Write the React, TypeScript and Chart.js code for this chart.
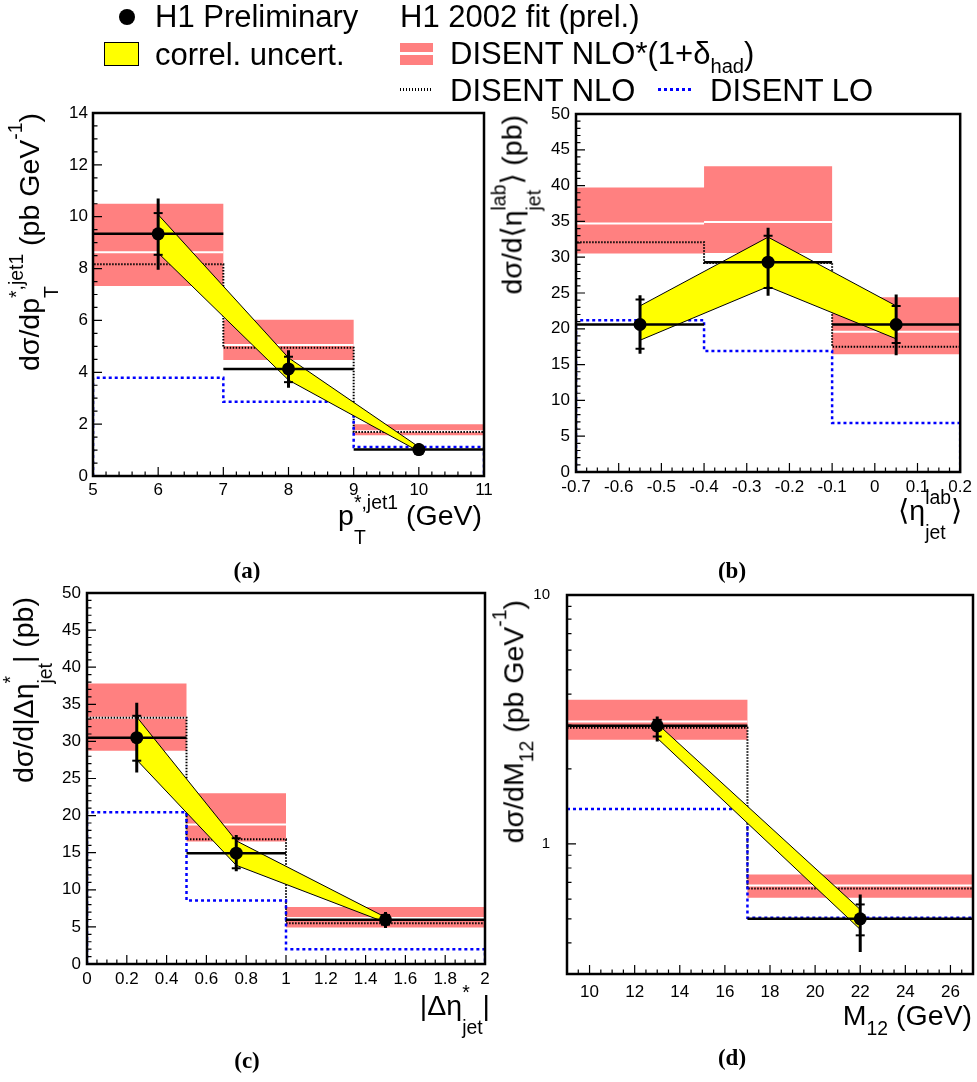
import React, { useEffect, useRef } from 'react';
import { Chart, registerables } from 'chart.js';
Chart.register(...registerables);

// ---------------- DATA ----------------
// Panel (a): d sigma / d pT*,jet1
const aEdges = [5, 7, 9, 11];
const aCenters = [6, 8, 10];
const aData = [9.34, 4.13, 1.02];
const aTotUp = [10.7, 4.85, 1.27];
const aTotDn = [7.95, 3.4, 0.78];
const aStatUp = [10.14, 4.6, 1.17];
const aStatDn = [8.53, 3.62, 0.87];
const aBandUp = [10.08, 4.56, 1.12];
const aBandDn = [8.6, 3.7, 0.95];
const aRedHi = [10.5, 6.03, 2.0];
const aRedLo = [7.33, 4.47, 1.57];
const aRedMid = [8.63, 5.05, 1.73];
const aNLO = [8.17, 4.95, 1.7];
const aLO = [3.79, 2.86, 1.12];
const aXTicks = [5, 6, 7, 8, 9, 10, 11];
const aYTicks = [0, 2, 4, 6, 8, 10, 12, 14];

// Panel (b): d sigma / d <eta_jet^lab>
const bEdges = [-0.7, -0.4, -0.1, 0.2];
const bCenters = [-0.55, -0.25, 0.05];
const bData = [20.6, 29.3, 20.6];
const bTotUp = [24.7, 34.1, 24.8];
const bTotDn = [16.5, 24.6, 16.3];
const bStatUp = [24.1, 33.0, 23.2];
const bStatDn = [17.2, 25.7, 18.0];
const bBandUp = [23.2, 32.8, 23.2];
const bBandDn = [18.4, 25.9, 18.6];
const bRedHi = [39.75, 42.7, 24.4];
const bRedLo = [30.5, 30.6, 16.45];
const bRedMid = [34.7, 34.9, 19.6];
const bNLO = [32.1, 29.2, 17.5];
const bLO = [21.2, 16.9, 6.85];
const bXTicks = [-0.7, -0.6, -0.5, -0.4, -0.3, -0.2, -0.1, 0, 0.1, 0.2];
const bYTicks = [0, 5, 10, 15, 20, 25, 30, 35, 40, 45, 50];

// Panel (c): d sigma / d |Delta eta*_jet|
const cEdges = [0, 0.5, 1, 2];
const cCenters = [0.25, 0.75, 1.5];
const cData = [30.5, 14.93, 5.96];
const cTotUp = [35.2, 17.4, 7.0];
const cTotDn = [25.8, 12.5, 4.85];
const cStatUp = [33.45, 16.95, 6.6];
const cStatDn = [27.4, 12.9, 5.3];
const cBandUp = [33.3, 16.6, 6.3];
const cBandDn = [27.5, 13.3, 5.6];
const cRedHi = [37.8, 23.0, 7.67];
const cRedLo = [28.75, 16.5, 4.93];
const cRedMid = [33.2, 18.8, 6.2];
const cNLO = [33.2, 16.8, 5.5];
const cLO = [20.45, 8.56, 2.0];
const cXTicks = [0, 0.2, 0.4, 0.6, 0.8, 1, 1.2, 1.4, 1.6, 1.8, 2];
const cYTicks = [0, 5, 10, 15, 20, 25, 30, 35, 40, 45, 50];

// Panel (d): d sigma / d M12
const dEdges = [9, 17, 27];
const dCenters = [13, 22];
const dData = [2.98, 0.5];
const dTotUp = [3.25, 0.626];
const dTotDn = [2.58, 0.368];
const dStatUp = [3.15, 0.571];
const dStatDn = [2.7, 0.429];
const dBandUp = [3.04, 0.545];
const dBandDn = [2.66, 0.453];
const dRedHi = [3.79, 0.753];
const dRedLo = [2.62, 0.607];
const dRedMid = [3.1, 0.681];
const dNLO = [2.93, 0.662];
const dLO = [1.38, 0.505];
const dXTicks = [10, 12, 14, 16, 18, 20, 22, 24, 26];
const dYTicks = [1, 10];
const dYMinor = [0.4, 0.5, 0.6, 0.7, 0.8, 0.9, 2, 3, 4, 5, 6, 7, 8, 9];

// ---------------- STYLE ----------------
const SANS = '"Liberation Sans", Arial, Helvetica, sans-serif';
const SERIF = '"Liberation Serif", "DejaVu Serif", "Times New Roman", serif';
const RED = 'rgb(255,128,128)';
const YELLOW = '#ffff00';
const BLUE = '#0000ff';
const PAGE_W = 977;
const PAGE_H = 1082;
const Y_AXIS_W = 70;
const X_AXIS_H = 45;

const seq = (a: number, b: number, s: number) => {
  const out: number[] = [];
  const n = Math.round((b - a) / s);
  for (let i = 0; i <= n; i++) out.push(+(a + i * s).toFixed(6));
  return out;
};

type P = {
  edges: number[]; centers: number[]; data: number[];
  totUp: number[]; totDn: number[]; statUp: number[]; statDn: number[];
  bandUp: number[]; bandDn: number[]; redHi: number[]; redLo: number[]; redMid: number[];
  nlo: number[]; lo: number[];
  xMin: number; xMax: number; yMin: number; yMax: number; logY: boolean;
  xTicks: number[]; yTicks: number[]; xMinor: number[]; yMinor: number[];
  area: { l: number; t: number; r: number; b: number };
  xFont: number; yFont: number; xPad: number; yPad: number;
};

const panelA: P = {
  edges: aEdges, centers: aCenters, data: aData, totUp: aTotUp, totDn: aTotDn, statUp: aStatUp, statDn: aStatDn,
  bandUp: aBandUp, bandDn: aBandDn, redHi: aRedHi, redLo: aRedLo, redMid: aRedMid, nlo: aNLO, lo: aLO,
  xMin: 5, xMax: 11, yMin: 0, yMax: 14, logY: false,
  xTicks: aXTicks, yTicks: aYTicks, xMinor: seq(5, 11, 0.2), yMinor: seq(0, 14, 0.5),
  area: { l: 93, t: 113, r: 484, b: 476 }, xFont: 17, yFont: 17, xPad: 4, yPad: 5,
};
const panelB: P = {
  edges: bEdges, centers: bCenters, data: bData, totUp: bTotUp, totDn: bTotDn, statUp: bStatUp, statDn: bStatDn,
  bandUp: bBandUp, bandDn: bBandDn, redHi: bRedHi, redLo: bRedLo, redMid: bRedMid, nlo: bNLO, lo: bLO,
  xMin: -0.7, xMax: 0.2, yMin: 0, yMax: 50, logY: false,
  xTicks: bXTicks, yTicks: bYTicks, xMinor: seq(-0.7, 0.2, 0.025), yMinor: seq(0, 50, 1),
  area: { l: 576, t: 114, r: 962, b: 472 }, xFont: 17, yFont: 17, xPad: 5, yPad: 6,
};
const panelC: P = {
  edges: cEdges, centers: cCenters, data: cData, totUp: cTotUp, totDn: cTotDn, statUp: cStatUp, statDn: cStatDn,
  bandUp: cBandUp, bandDn: cBandDn, redHi: cRedHi, redLo: cRedLo, redMid: cRedMid, nlo: cNLO, lo: cLO,
  xMin: 0, xMax: 2, yMin: 0, yMax: 50, logY: false,
  xTicks: cXTicks, yTicks: cYTicks, xMinor: seq(0, 2, 0.05), yMinor: seq(0, 50, 1),
  area: { l: 87, t: 593, r: 485, b: 964 }, xFont: 17, yFont: 17, xPad: 5, yPad: 6,
};
const panelD: P = {
  edges: dEdges, centers: dCenters, data: dData, totUp: dTotUp, totDn: dTotDn, statUp: dStatUp, statDn: dStatDn,
  bandUp: dBandUp, bandDn: dBandDn, redHi: dRedHi, redLo: dRedLo, redMid: dRedMid, nlo: dNLO, lo: dLO,
  xMin: 9, xMax: 27, yMin: 0.3, yMax: 10, logY: true,
  xTicks: dXTicks, yTicks: dYTicks, xMinor: seq(9, 27, 0.5), yMinor: dYMinor,
  area: { l: 567, t: 595, r: 973, b: 974 }, xFont: 17, yFont: 15, xPad: 8, yPad: 17,
};

// ---------------- helpers that turn arrays into chart points ----------------
const stepPts = (edges: number[], vals: number[]) =>
  edges.map((x, i) => ({ x, y: vals[Math.min(i, vals.length - 1)] }));
const histPts = (edges: number[], vals: number[], base: number) =>
  [{ x: edges[0], y: base }, ...stepPts(edges, vals), { x: edges[edges.length - 1], y: base }];
const binSegs = (edges: number[], vals: number[]) =>
  vals.flatMap((v, i) => [{ x: edges[i], y: v }, { x: edges[i + 1], y: v }, { x: edges[i + 1], y: null }]);
const vSegs = (xs: number[], lo: number[], hi: number[]) =>
  xs.flatMap((x, i) => [{ x, y: lo[i] }, { x, y: hi[i] }, { x, y: null }]);
const pts = (xs: number[], ys: number[]) => xs.map((x, i) => ({ x, y: ys[i] }));

function buildDatasets(p: P): any[] {
  const line = (extra: any) => ({
    type: 'line', pointRadius: 0, pointHoverRadius: 0, pointHitRadius: 0,
    tension: 0, fill: false, spanGaps: false, ...extra,
  });
  const hist = (vals: number[]) => (p.logY ? stepPts(p.edges, vals) : histPts(p.edges, vals, 0));
  return [
    line({ data: stepPts(p.edges, p.redLo), stepped: true, borderWidth: 0, borderColor: 'rgba(0,0,0,0)', order: 10 }),
    line({ data: stepPts(p.edges, p.redHi), stepped: true, borderWidth: 0, borderColor: 'rgba(0,0,0,0)', fill: '-1', backgroundColor: RED, order: 9 }),
    line({ data: binSegs(p.edges, p.redMid), borderColor: '#ffffff', borderWidth: 2, order: 8 }),
    line({ data: hist(p.nlo), stepped: true, borderColor: '#000000', borderWidth: 2, borderDash: [1.5, 1.5], order: 7 }),
    line({ data: hist(p.lo), stepped: true, borderColor: BLUE, borderWidth: 2.5, borderDash: [3, 3], order: 6 }),
    line({ data: pts(p.centers, p.bandDn), borderColor: '#000000', borderWidth: 1, order: 4 }),
    line({ data: pts(p.centers, p.bandUp), borderColor: '#000000', borderWidth: 1, fill: '-1', backgroundColor: YELLOW, order: 5 }),
    line({ data: binSegs(p.edges, p.data), borderColor: '#000000', borderWidth: 2.5, order: 3 }),
    line({ data: vSegs(p.centers, p.totDn, p.totUp), borderColor: '#000000', borderWidth: 3, order: 2 }),
    {
      type: 'line', data: [...pts(p.centers, p.statUp), ...pts(p.centers, p.statDn)], showLine: false,
      pointStyle: 'line', pointRadius: 4.5, pointHoverRadius: 0, pointBorderWidth: 2, pointBorderColor: '#000000', order: 1,
    },
    {
      type: 'line', data: pts(p.centers, p.data), showLine: false, pointStyle: 'circle', pointRadius: 6.5,
      pointHoverRadius: 0, pointBackgroundColor: '#000000', pointBorderColor: '#000000', pointBorderWidth: 0, order: 0,
    },
  ];
}

function rootFrame(xMinor: number[], yMinor: number[]) {
  return {
    id: 'rootFrame',
    afterDatasetsDraw(chart: any) {
      const { ctx, chartArea: a } = chart;
      const xs = chart.scales.x;
      const ys = chart.scales.y;
      ctx.save();
      ctx.strokeStyle = '#000';
      ctx.lineWidth = 1.2;
      ctx.beginPath();
      const vx = (v: number, len: number) => {
        const px = xs.getPixelForValue(v);
        if (px < a.left - 0.5 || px > a.right + 0.5) return;
        ctx.moveTo(px, a.bottom);
        ctx.lineTo(px, a.bottom - len);
      };
      const vy = (v: number, len: number) => {
        const py = ys.getPixelForValue(v);
        if (py < a.top - 0.5 || py > a.bottom + 0.5) return;
        ctx.moveTo(a.left, py);
        ctx.lineTo(a.left + len, py);
      };
      xMinor.forEach((v) => vx(v, 4.5));
      yMinor.forEach((v) => vy(v, 4.5));
      xs.ticks.forEach((t: any) => vx(t.value, 9));
      ys.ticks.forEach((t: any) => vy(t.value, 9));
      ctx.stroke();
      ctx.lineWidth = 2.5;
      ctx.strokeRect(a.left, a.top, a.right - a.left, a.bottom - a.top);
      ctx.restore();
    },
  };
}

function Panel({ p }: { p: P }) {
  const ref = useRef<HTMLCanvasElement | null>(null);
  useEffect(() => {
    const { l, t, r, b } = p.area;
    const chart = new Chart(ref.current as HTMLCanvasElement, {
      type: 'line',
      data: { datasets: buildDatasets(p) },
      plugins: [rootFrame(p.xMinor, p.yMinor)],
      options: {
        responsive: false,
        animation: false,
        events: [],
        layout: {
          autoPadding: false,
          padding: { left: l - Y_AXIS_W, top: t, right: PAGE_W - r, bottom: PAGE_H - b - X_AXIS_H },
        },
        plugins: { legend: { display: false }, tooltip: { enabled: false } },
        scales: {
          x: {
            type: 'linear', min: p.xMin, max: p.xMax,
            grid: { display: false, drawTicks: false },
            border: { display: false },
            ticks: {
              color: '#000', font: { family: SANS, size: p.xFont }, padding: p.xPad,
              autoSkip: false, maxRotation: 0, minRotation: 0, callback: (v: any) => String(v),
            },
            afterBuildTicks: (s: any) => { s.ticks = p.xTicks.map((v) => ({ value: v })); },
            afterFit: (s: any) => { s.height = X_AXIS_H; },
          },
          y: {
            type: p.logY ? 'logarithmic' : 'linear', min: p.yMin, max: p.yMax,
            grid: { display: false, drawTicks: false },
            border: { display: false },
            ticks: {
              color: '#000', font: { family: SANS, size: p.yFont }, padding: p.yPad,
              autoSkip: false, callback: (v: any) => String(v),
            },
            afterBuildTicks: (s: any) => { s.ticks = p.yTicks.map((v) => ({ value: v })); },
            afterFit: (s: any) => { s.width = Y_AXIS_W; },
          },
        },
      } as any,
    });
    return () => chart.destroy();
  }, [p]);
  return (
    <canvas
      ref={ref}
      width={PAGE_W}
      height={PAGE_H}
      style={{ position: 'absolute', left: 0, top: 0, width: PAGE_W, height: PAGE_H }}
    />
  );
}

// ---------------- text helpers ----------------
const Sup = ({ children, s = 0.68, up = 0.6 }: any) => (
  <span style={{ fontSize: `${s}em`, position: 'relative', top: `${-up / s}em` }}>{children}</span>
);
const Sub = ({ children, s = 0.68, down = 0.35 }: any) => (
  <span style={{ fontSize: `${s}em`, position: 'relative', top: `${down / s}em` }}>{children}</span>
);
const Stack = ({ sup, sub, s = 0.68, up = 0.56, down = 0.68 }: any) => (
  <span style={{ display: 'inline-grid', justifyItems: 'start' }}>
    <span style={{ gridArea: '1 / 1', fontSize: `${s}em`, position: 'relative', top: `${-up / s}em` }}>{sup}</span>
    <span style={{ gridArea: '1 / 1', fontSize: `${s}em`, position: 'relative', top: `${down / s}em` }}>{sub}</span>
  </span>
);

const Txt = ({ x, b, fs, children }: any) => (
  <div style={{ position: 'absolute', left: x, top: b - 0.8465 * fs, fontSize: fs, lineHeight: 1, fontFamily: SANS, whiteSpace: 'nowrap', color: '#000' }}>
    {children}
  </div>
);
const HTitle = ({ rx, by, fs = 28.5, children }: any) => (
  <div style={{ position: 'absolute', right: PAGE_W - rx, top: by - 0.8465 * fs, fontSize: fs, lineHeight: 1, fontFamily: SANS, whiteSpace: 'nowrap', color: '#000' }}>
    {children}
  </div>
);
const VTitle = ({ bx, ey, fs = 28.5, children }: any) => (
  <div style={{ position: 'absolute', left: bx - 0.8465 * fs, top: ey, width: 0, height: 0 }}>
    <div style={{ position: 'absolute', right: 0, top: 0, transformOrigin: '100% 0', transform: 'rotate(-90deg)', fontSize: fs, lineHeight: 1, fontFamily: SANS, whiteSpace: 'nowrap', color: '#000' }}>
      {children}
    </div>
  </div>
);
const PLabel = ({ cx, by, children }: any) => (
  <div style={{ position: 'absolute', left: cx - 40, width: 80, textAlign: 'center', top: by - 0.84 * 23, fontSize: 23, lineHeight: 1, fontFamily: SERIF, fontWeight: 'bold', color: '#000' }}>
    {children}
  </div>
);

function Legend() {
  const LF = 31;
  return (
    <>
      <div style={{ position: 'absolute', left: 119, top: 9, width: 16, height: 16, borderRadius: '50%', background: '#000' }} />
      <Txt x={155} b={27} fs={LF}>H1 Preliminary</Txt>
      <div style={{ position: 'absolute', left: 104, top: 42, width: 35, height: 24, background: YELLOW, border: '1px solid #000', boxSizing: 'border-box' }} />
      <Txt x={155} b={65} fs={LF}>correl. uncert.</Txt>
      <Txt x={400} b={27} fs={LF}>H1 2002 fit (prel.)</Txt>
      <div style={{ position: 'absolute', left: 400, top: 43, width: 33, height: 22, background: RED }}>
        <div style={{ position: 'absolute', left: 0, top: 9, width: 33, height: 3, background: '#fff' }} />
      </div>
      <Txt x={450} b={64} fs={LF}>DISENT NLO*(1+δ<Sub s={0.65} down={0.3}>had</Sub>)</Txt>
      <div style={{ position: 'absolute', left: 400, top: 88, width: 33, height: 2.5, background: 'repeating-linear-gradient(to right, #000 0px, #000 1.5px, transparent 1.5px, transparent 3px)' }} />
      <Txt x={450} b={101} fs={LF}>DISENT NLO</Txt>
      <div style={{ position: 'absolute', left: 658, top: 88, width: 35, height: 3, background: `repeating-linear-gradient(to right, ${BLUE} 0px, ${BLUE} 3px, transparent 3px, transparent 6px)` }} />
      <Txt x={710} b={101} fs={LF}>DISENT LO</Txt>
    </>
  );
}

export default function App() {
  return (
    <div style={{ position: 'absolute', left: 0, top: 0, width: PAGE_W, height: PAGE_H, background: '#fff', overflow: 'hidden' }}>
      <Panel p={panelA} />
      <Panel p={panelB} />
      <Panel p={panelC} />
      <Panel p={panelD} />
      <Legend />

      <VTitle bx={39} ey={113}>dσ/dp<Stack sup="*,jet1" sub="T" /> (pb GeV<Sup>-1</Sup>)</VTitle>
      <HTitle rx={482} by={525}>p<Stack sup="*,jet1" sub="T" /> (GeV)</HTitle>

      <VTitle bx={522} ey={115}>dσ/d⟨η<Stack sup="lab" sub="jet" />⟩ (pb)</VTitle>
      <HTitle rx={962} by={520}>⟨η<Stack sup="lab" sub="jet" />⟩</HTitle>

      <VTitle bx={33} ey={597}>dσ/d|Δη<Stack sup="*" sub="jet" />| (pb)</VTitle>
      <HTitle rx={490} by={1015}>|Δη<Stack sup="*" sub="jet" />|</HTitle>

      <VTitle bx={523} ey={600}>dσ/dM<Sub>12</Sub> (pb GeV<Sup>-1</Sup>)</VTitle>
      <HTitle rx={972} by={1025}>M<Sub>12</Sub> (GeV)</HTitle>

      <PLabel cx={247} by={578}>(a)</PLabel>
      <PLabel cx={732} by={578}>(b)</PLabel>
      <PLabel cx={247} by={1068}>(c)</PLabel>
      <PLabel cx={732} by={1065}>(d)</PLabel>
    </div>
  );
}
